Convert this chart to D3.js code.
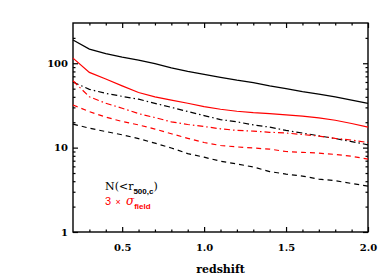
<!DOCTYPE html>
<html>
<head>
<meta charset="utf-8">
<script src="https://cdn.jsdelivr.net/npm/d3@7"></script>
<style>
  body { margin: 0; background: #fff; }
  svg { display: block; }
  .axis path, .axis line { stroke: #000; }
  .axis text { font-family: "DejaVu Serif", serif; font-weight: bold; font-size: 10px; fill: #000; }
</style>
</head>
<body>
<svg id="chart"></svg>
<script>
// redshift grid of the curves
const redshift = [0.2, 0.3, 0.4, 0.5, 0.6, 0.7, 0.8, 0.9, 1.0, 1.1, 1.2, 1.3, 1.4, 1.5, 1.6, 1.7, 1.8, 1.9, 2.0];

// N(<r500,c) curves (black) and 3 x sigma_field curves (red)
const nSolid   = [189, 147, 130, 118, 109, 99, 88, 80, 74, 68, 63, 59, 54, 50, 46, 43, 40, 36.5, 33.5];
const nDashDot = [60, 49, 44, 40.5, 37.5, 33.5, 30, 26.8, 24, 21.5, 20.2, 18.6, 17.5, 16, 14.9, 13.8, 12.8, 11.8, 10.8];
const nDashed  = [19, 17, 15.5, 14.2, 12.8, 11.3, 9.9, 8.5, 7.7, 6.9, 6.4, 5.9, 5.2, 4.86, 4.6, 4.24, 4.05, 3.76, 3.5];
const sSolid   = [115, 78, 65, 54, 45, 40, 36.5, 33.6, 30.6, 28.5, 27, 26, 25.3, 24.4, 23.6, 22.5, 21.1, 19.3, 17.5];
const sDashDot = [62, 40, 33.6, 29.3, 25.3, 22.7, 20.2, 18.8, 17.8, 16.7, 16, 15.7, 15.2, 14.9, 14.3, 13.7, 12.9, 12.3, 11.5];
const sDashed  = [32, 26.7, 23, 20.4, 18.6, 16.6, 14.6, 12.9, 11.5, 10.6, 10.2, 9.9, 9.6, 9.0, 8.8, 8.6, 8.3, 7.9, 7.3];

// tick values
const xMajor = [0.5, 1.0, 1.5, 2.0];
const xMinor = [0.3, 0.4, 0.6, 0.7, 0.8, 0.9, 1.1, 1.2, 1.3, 1.4, 1.6, 1.7, 1.8, 1.9];
const yMajor = [1, 10, 100];
const yMinor = [2, 3, 4, 5, 6, 7, 8, 9, 20, 30, 40, 50, 60, 70, 80, 90, 200];

let svgWidth = 390, svgHeight = 279
let margin = {left: 73, right: 22, top: 23, bottom: 47}
let width = svgWidth - margin.left - margin.right
let height = svgHeight - margin.top - margin.bottom

let svg = d3.select("#chart")
    .attr("width", svgWidth)
    .attr("height", svgHeight)

let g = svg.append("g")
    .attr("transform", `translate(${margin.left}, ${margin.top})`)

let xScale = d3.scaleLinear().domain([0.2, 2.0]).range([0, width])
let yScale = d3.scaleLog().domain([1, 300]).range([height, 0])

// axes: ticks point inward, mirrored on top and right
function addAxis(axisFn, scale, major, minor, transform, labels, pad) {
    let ax = g.append("g").attr("class", "axis").attr("transform", transform)
    ax.call(axisFn(scale).tickValues(minor).tickSizeInner(-2.5).tickSizeOuter(0).tickFormat(""))
    ax.select(".domain").remove()
    let ax2 = g.append("g").attr("class", "axis").attr("transform", transform)
    ax2.call(axisFn(scale).tickValues(major).tickSizeInner(-5).tickSizeOuter(0).tickPadding(pad)
        .tickFormat(labels ? (d => labels(d)) : ""))
    ax2.select(".domain").remove()
}
addAxis(d3.axisBottom, xScale, xMajor, xMinor, `translate(0, ${height})`, d3.format(".1f"), 11.5)
addAxis(d3.axisTop, xScale, xMajor, xMinor, `translate(0, 0)`, null, 0)
addAxis(d3.axisLeft, yScale, yMajor, yMinor, `translate(0, 0)`, d3.format("d"), 5)
addAxis(d3.axisRight, yScale, yMajor, yMinor, `translate(${width}, 0)`, null, 0)

g.selectAll(".axis line").attr("stroke-width", 1.2)

// frame
g.append("rect")
    .attr("width", width).attr("height", height)
    .attr("fill", "none").attr("stroke", "#000").attr("stroke-width", 1.4)

// curves
let line = d3.line()
    .x((d, i) => xScale(redshift[i]))
    .y(d => yScale(d))

let curves = [
    {values: nSolid, color: "#000", dash: null},
    {values: nDashDot, color: "#000", dash: "6,3,1.5,3"},
    {values: nDashed, color: "#000", dash: "5,4"},
    {values: sSolid, color: "#ff0000", dash: null},
    {values: sDashDot, color: "#ff0000", dash: "6,3,1.5,3"},
    {values: sDashed, color: "#ff0000", dash: "5,4"}
]

g.selectAll(".curve")
    .data(curves)
    .enter()
    .append("path")
    .attr("class", "curve")
    .attr("d", c => line(c.values))
    .attr("fill", "none")
    .attr("stroke", c => c.color)
    .attr("stroke-width", 1.2)
    .attr("stroke-dasharray", c => c.dash)

// x axis title
svg.append("text")
    .attr("x", xScale(1.1) + margin.left)
    .attr("y", 272.5)
    .attr("text-anchor", "middle")
    .style("font-family", "'DejaVu Serif', serif")
    .style("font-weight", "bold")
    .style("font-size", "11px")
    .text("redshift")

// legend
let leg1 = svg.append("text")
    .attr("x", 105).attr("y", 190)
    .style("font-family", "'DejaVu Serif', serif")
    .style("font-size", "11px")
leg1.append("tspan").text("N(<r")
leg1.append("tspan").attr("dy", 4)
    .style("font-family", "'Liberation Sans', sans-serif").style("font-weight", "bold").style("font-size", "8px")
    .text("500,c")
leg1.append("tspan").attr("dy", -4).text(")")

let leg2 = svg.append("text")
    .attr("x", 105).attr("y", 205)
    .attr("fill", "#ff0000")
    .style("font-family", "'Liberation Sans', sans-serif")
    .style("font-size", "11px")
leg2.append("tspan").text("3")
leg2.append("tspan").attr("x", 115.5).style("font-size", "9px").text("×")
leg2.append("tspan").attr("x", 126).style("font-style", "italic").style("font-family", "'DejaVu Serif', serif")
    .style("font-size", "12px").text("σ")
leg2.append("tspan").attr("dy", 4).style("font-weight", "bold").style("font-size", "8px").text("field")
</script>
</body>
</html>
